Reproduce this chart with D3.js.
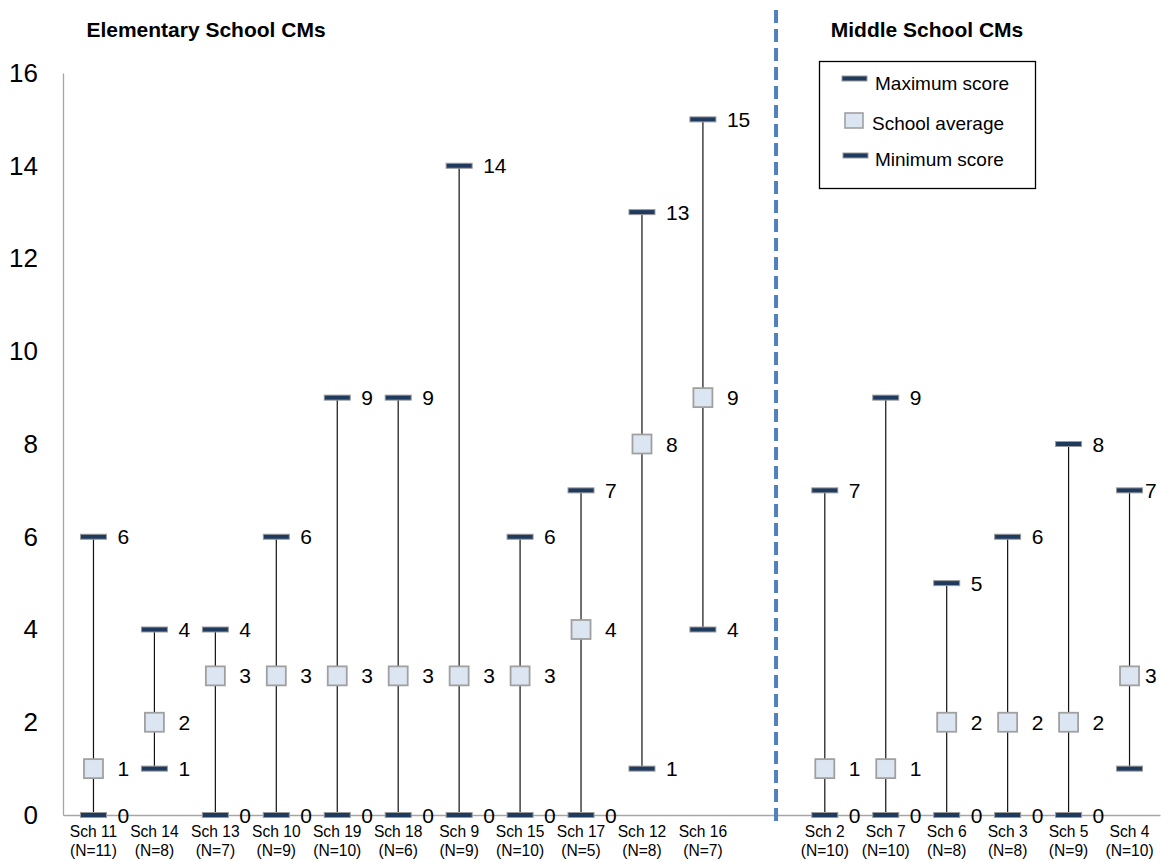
<!DOCTYPE html>
<html>
<head>
<meta charset="utf-8">
<script src="https://cdn.jsdelivr.net/npm/d3@7"></script>
<style>
  html, body { margin: 0; padding: 0; background: #fff; }
  text { font-family: "Liberation Sans", Arial, sans-serif; }
</style>
</head>
<body>
<svg id="chart" width="1161" height="861"></svg>
<script>
// ---- data ----
const schools = ["Sch 11","Sch 14","Sch 13","Sch 10","Sch 19","Sch 18","Sch 9","Sch 15","Sch 17","Sch 12","Sch 16","",
                 "Sch 2","Sch 7","Sch 6","Sch 3","Sch 5","Sch 4"];
const sizes   = ["(N=11)","(N=8)","(N=7)","(N=9)","(N=10)","(N=6)","(N=9)","(N=10)","(N=5)","(N=8)","(N=7)","",
                 "(N=10)","(N=10)","(N=8)","(N=8)","(N=9)","(N=10)"];
const maxScore = [6,4,4,6,9,9,14,6,7,13,15,null, 7,9,5,6,8,7];
const avgScore = [1,2,3,3,3,3,3,3,4,8,9,null, 1,1,2,2,2,3];
const minScore = [0,1,0,0,0,0,0,0,0,1,4,null, 0,0,0,0,0,1];
const minLabelShown = [true,true,true,true,true,true,true,true,true,true,true,false, true,true,true,true,true,false];
const yTicks = [0,2,4,6,8,10,12,14,16];
const groupTitles = ["Elementary School CMs","Middle School CMs"];
const legendItems = ["Maximum score","School average","Minimum score"];
const dividerIndex = 11.7; // position of the divider in category units

// ---- layout ----
const svg = d3.select("#chart");
const W = 1161, H = 861;
const plot = {left: 63, right: 1160, top: 73, bottom: 815};

const x = d3.scaleBand().domain(d3.range(schools.length)).range([plot.left, plot.right]).padding(0);
const cx = i => x(i) + x.bandwidth() / 2;
const y = d3.scaleLinear().domain([0, 16]).range([plot.bottom, plot.top]);

const navy = "#1f3a5f", markStroke = "#9a9a9a";
const avgFill = "#dce6f2", avgStroke = "#a0a0a0";
const axisGray = "#a6a6a6";

// y axis
const yAxis = d3.axisLeft(y).tickValues(yTicks).tickSize(0).tickPadding(25).tickFormat(d3.format("d"));
const gy = svg.append("g").attr("transform", `translate(${plot.left},0)`).call(yAxis);
gy.select(".domain").attr("stroke", axisGray).attr("stroke-width", 1.3);
gy.selectAll("text").attr("font-size", 26).attr("fill", "#000")
  .attr("font-family", "Liberation Sans, Arial, sans-serif");

// x axis
const xAxis = d3.axisBottom(x).tickSize(0).tickFormat(() => "");
const gx = svg.append("g").attr("transform", `translate(0,${plot.bottom})`).call(xAxis);
gx.select(".domain").attr("stroke", axisGray).attr("stroke-width", 1.3);
gx.selectAll(".tick").each(function(d) {
  const t = d3.select(this).append("text")
    .attr("text-anchor", "middle").attr("font-size", 15.6).attr("fill", "#000");
  t.append("tspan").attr("x", 0).attr("y", 22).text(schools[d]);
  t.append("tspan").attr("x", 0).attr("y", 41).text(sizes[d]);
});

// divider (dashed)
const divX = plot.left + dividerIndex * x.bandwidth();
svg.append("line").attr("x1", divX).attr("x2", divX).attr("y1", 10).attr("y2", 826)
  .attr("stroke", "#4f81bd").attr("stroke-width", 4).attr("stroke-dasharray", "13,6");

// data marks
const idx = d3.range(schools.length).filter(i => maxScore[i] !== null);
const g = svg.append("g");

// whiskers
g.selectAll("line.whisker").data(idx).join("line")
  .attr("class", "whisker")
  .attr("x1", cx).attr("x2", cx)
  .attr("y1", i => y(minScore[i])).attr("y2", i => y(maxScore[i]))
  .attr("stroke", "#111").attr("stroke-width", 1.2);

const barW = 26, barH = 5;
function bars(cls, arr) {
  g.selectAll("rect." + cls).data(idx).join("rect")
    .attr("class", cls)
    .attr("x", i => cx(i) - barW / 2).attr("y", i => y(arr[i]) - barH / 2)
    .attr("width", barW).attr("height", barH)
    .attr("fill", navy).attr("stroke", markStroke).attr("stroke-width", 1);
}
bars("maxbar", maxScore);
bars("minbar", minScore);

const boxS = 19;
g.selectAll("rect.avg").data(idx).join("rect")
  .attr("class", "avg")
  .attr("x", i => cx(i) - boxS / 2).attr("y", i => y(avgScore[i]) - boxS / 2)
  .attr("width", boxS).attr("height", boxS)
  .attr("fill", avgFill).attr("stroke", avgStroke).attr("stroke-width", 1.8);

// value labels
const labelOff = 24;
const labelX = i => Math.min(cx(i) + labelOff, W - 16);
function labels(cls, arr, filter) {
  g.selectAll("text." + cls).data(idx.filter(filter)).join("text")
    .attr("class", cls)
    .attr("x", labelX).attr("y", i => y(arr[i]))
    .attr("dy", "0.36em").attr("font-size", 21).attr("fill", "#000")
    .text(i => arr[i]);
}
labels("maxlab", maxScore, () => true);
labels("avglab", avgScore, () => true);
labels("minlab", minScore, i => minLabelShown[i]);

// group titles
svg.append("text").attr("x", 206).attr("y", 37).attr("text-anchor", "middle")
  .attr("font-size", 21).attr("font-weight", "bold").attr("fill", "#000").text(groupTitles[0]);
svg.append("text").attr("x", 927).attr("y", 37).attr("text-anchor", "middle")
  .attr("font-size", 21).attr("font-weight", "bold").attr("fill", "#000").text(groupTitles[1]);

// legend
const lg = svg.append("g");
lg.append("rect").attr("x", 819.5).attr("y", 61.5).attr("width", 216).attr("height", 127)
  .attr("fill", "#fff").attr("stroke", "#000").attr("stroke-width", 1.3);
const legRows = [81, 121, 157];
lg.append("rect").attr("x", 842).attr("y", legRows[0] - 5).attr("width", 25).attr("height", 5)
  .attr("fill", navy).attr("stroke", markStroke).attr("stroke-width", 1);
lg.append("rect").attr("x", 845).attr("y", legRows[1] - 8).attr("width", 18).attr("height", 15)
  .attr("fill", avgFill).attr("stroke", avgStroke).attr("stroke-width", 1.6);
lg.append("rect").attr("x", 843).attr("y", legRows[2] - 4).attr("width", 25).attr("height", 5)
  .attr("fill", navy).attr("stroke", markStroke).attr("stroke-width", 1);
const legTextX = [875, 872, 875];
legendItems.forEach((t, k) => {
  lg.append("text").attr("x", legTextX[k]).attr("y", legRows[k] + 2).attr("dy", "0.35em")
    .attr("font-size", 19).attr("fill", "#000").text(t);
});
</script>
</body>
</html>
